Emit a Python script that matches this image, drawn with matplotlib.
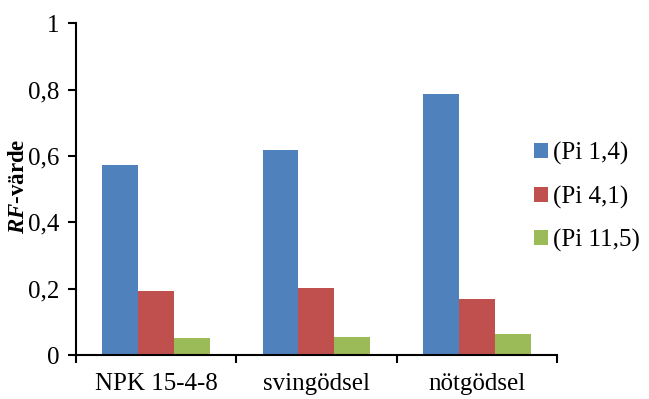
import matplotlib
matplotlib.use('Agg')
import matplotlib.pyplot as plt
import numpy as np

# dane
kategorie = ['NPK 15-4-8', 'svingödsel', 'nötgödsel']
serie = ['(Pi 1,4)', '(Pi 4,1)', '(Pi 11,5)']
pi_1_4 = [0.572, 0.618, 0.786]
pi_4_1 = [0.194, 0.203, 0.169]
pi_11_5 = [0.051, 0.054, 0.063]
y_ticks = [0, 0.2, 0.4, 0.6, 0.8, 1]
y_labels = ['0', '0,2', '0,4', '0,6', '0,8', '1']

kolory = ['#4F81BD', '#C0504D', '#9BBB59']

plt.rcParams['font.family'] = 'Liberation Serif'
plt.rcParams['mathtext.fontset'] = 'custom'
plt.rcParams['mathtext.bfit'] = 'Liberation Serif:italic:bold'
plt.rcParams['mathtext.rm'] = 'Liberation Serif'

fs = 18
fig = plt.figure(figsize=(6.49, 3.99), dpi=100)
ax = fig.add_axes([0.117, 0.110, 0.741, 0.832])

x = np.arange(len(kategorie))
w = 0.224
for i, (vals, kol, lab) in enumerate(zip([pi_1_4, pi_4_1, pi_11_5], kolory, serie)):
    ax.bar(x + (i - 1) * w, vals, width=w, color=kol, label=lab)

ax.set_xlim(-0.5, len(kategorie) - 0.5)
ax.set_ylim(0, 1)
ax.set_yticks(y_ticks)
ax.set_yticklabels(y_labels, fontsize=fs)
ax.set_xticks(np.arange(len(kategorie) + 1) - 0.5)
ax.set_xticklabels([])
ax.set_xticks(x, minor=True)
ax.set_xticklabels(kategorie, minor=True, fontsize=fs)
ax.tick_params(axis='x', which='minor', length=0, pad=13)
ax.tick_params(axis='x', which='major', length=6, width=1.5, direction='out')
ax.tick_params(axis='y', length=6, width=1.5, direction='out', pad=6)
for s in ['top', 'right']:
    ax.spines[s].set_visible(False)
for s in ['left', 'bottom']:
    ax.spines[s].set_linewidth(1.5)

ax.set_ylabel(r'$\mathbfit{RF}$-värde', fontsize=16.5, fontweight='bold')
ax.yaxis.set_label_coords(-0.097, 0.51)

fig.legend(loc='center left', bbox_to_anchor=(534 / 649, 1 - 197 / 399), frameon=False, fontsize=fs,
           borderpad=0, borderaxespad=0,
           handlelength=0.55, handleheight=0.55, handletextpad=0.2, labelspacing=0.82)

fig.savefig('out.png', dpi=100)
